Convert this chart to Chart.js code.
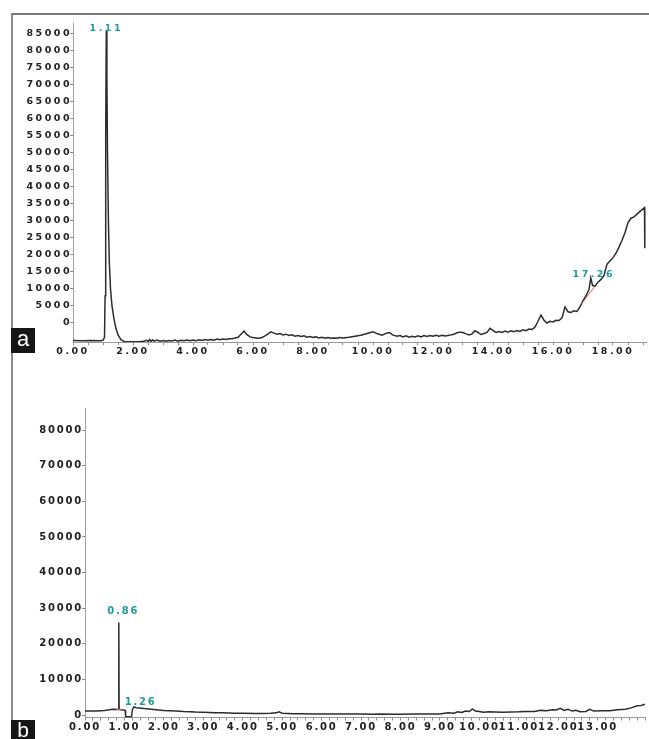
<!DOCTYPE html>
<html>
<head>
<meta charset="utf-8">
<script src="https://cdn.jsdelivr.net/npm/chart.js@4.4.1/dist/chart.umd.min.js"></script>
<style>
  html, body { margin: 0; padding: 0; background: #fff; }
  #wrap { position: relative; width: 649px; height: 739px; overflow: hidden; background: #fff; }
  #frame { position: absolute; left: 11px; top: 13px; width: 640px; height: 740px;
           border-top: 2px solid #7a7a7a; border-left: 2px solid #8a8a8a; box-sizing: border-box; }
  canvas { position: absolute; left: 0; }
  #ca { top: 0; }
  #cb { top: 380px; }
  .tag { position: absolute; left: 11px; background: #161616; color: #fff;
         font-family: "Liberation Sans", Arial, sans-serif; text-align: center; }
  #taga { top: 328px; width: 24px; height: 25px; font-size: 22px; line-height: 22px; }
  #tagb { top: 720px; width: 24px; height: 19px; font-size: 21px; line-height: 19px; }
</style>
</head>
<body>
<div id="wrap">
  <div id="frame"></div>
  <canvas id="ca" width="649" height="360"></canvas>
  <canvas id="cb" width="649" height="359"></canvas>
  <div class="tag" id="taga">a</div>
  <div class="tag" id="tagb">b</div>
</div>
<script>
// ---------------- Panel a data ----------------
const timeA = [0.00,0.30,0.60,0.90,1.00,1.05,1.07,1.09,1.11,1.13,1.15,1.18,1.21,1.25,1.30,1.36,1.42,1.50,1.60,1.70,1.85,2.00,2.20,2.35,2.45,2.50,2.55,2.60,2.65,2.70,2.80,2.90,3.00,3.10,3.20,3.30,3.40,3.50,3.60,3.70,3.80,3.90,4.00,4.10,4.20,4.30,4.40,4.50,4.60,4.70,4.80,4.90,5.00,5.10,5.20,5.30,5.40,5.50,5.60,5.70,5.78,5.90,6.00,6.10,6.20,6.30,6.40,6.50,6.60,6.70,6.80,6.90,7.00,7.10,7.20,7.30,7.40,7.50,7.60,7.70,7.80,7.90,8.00,8.10,8.20,8.30,8.40,8.50,8.60,8.70,8.80,8.90,9.00,9.20,9.40,9.60,9.80,10.00,10.15,10.30,10.45,10.55,10.65,10.80,10.90,11.00,11.10,11.20,11.30,11.40,11.50,11.60,11.70,11.80,11.90,12.00,12.10,12.20,12.30,12.40,12.50,12.60,12.70,12.80,12.90,13.00,13.10,13.20,13.30,13.40,13.50,13.60,13.70,13.80,13.90,14.00,14.10,14.20,14.30,14.40,14.50,14.60,14.70,14.80,14.90,15.00,15.10,15.20,15.30,15.40,15.50,15.60,15.70,15.80,15.90,16.00,16.10,16.20,16.30,16.40,16.50,16.60,16.70,16.80,16.90,17.00,17.10,17.20,17.26,17.32,17.40,17.50,17.60,17.70,17.80,17.90,18.00,18.10,18.20,18.30,18.40,18.50,18.60,18.70,18.80,18.90,19.05,19.06];
const signalA = [-5150,-5200,-5150,-5200,-5100,-4200,8000,55000,86000,72000,50000,30000,18000,10000,5000,1500,-1200,-3500,-4900,-5450,-5550,-5550,-5500,-5400,-5100,-5450,-4850,-5450,-4950,-5350,-5050,-5350,-5150,-5350,-5150,-5300,-5050,-5350,-5100,-5250,-5050,-5250,-5050,-5200,-4950,-5150,-4900,-5100,-4850,-5050,-4750,-4950,-4750,-4850,-4650,-4650,-4450,-4200,-3300,-2400,-3300,-4100,-4300,-4400,-4500,-4300,-3800,-3200,-2600,-3000,-3300,-3100,-3500,-3300,-3700,-3500,-3900,-3700,-4000,-3800,-4200,-4000,-4300,-4100,-4400,-4200,-4500,-4300,-4500,-4400,-4500,-4300,-4400,-4200,-3900,-3600,-3100,-2600,-3200,-3600,-3000,-2800,-3500,-3900,-3700,-4100,-3800,-4200,-3900,-4100,-3800,-4100,-3700,-4000,-3700,-3900,-3600,-3900,-3600,-3800,-3700,-3500,-3300,-2900,-2700,-2800,-3200,-3500,-3200,-2300,-2800,-3400,-3100,-2800,-1600,-2200,-2800,-2500,-2800,-2400,-2700,-2300,-2600,-2200,-2500,-2000,-2300,-1800,-1900,-1200,500,2300,800,0,500,300,800,700,1500,4700,3300,3100,3600,3400,4800,6500,8000,9800,13200,11000,10800,12000,12800,14000,17300,18200,19200,20500,22300,24300,26500,29500,30800,31200,32000,32800,33900,22000];
const baseTimeA = [16.95, 17.38];
const baseSignalA = [5600, 10600];
const yTickValuesA = [0,5000,10000,15000,20000,25000,30000,35000,40000,45000,50000,55000,60000,65000,70000,75000,80000,85000];
const yTickLabelsA = ['0','5000','10000','15000','20000','25000','30000','35000','40000','45000','50000','55000','60000','65000','70000','75000','80000','85000'];
const xTickValuesA = [0,2,4,6,8,10,12,14,16,18];
const xTickLabelsA = ['0.00','2.00','4.00','6.00','8.00','10.00','12.00','14.00','16.00','18.00'];
const peakLabelsA = ['1.11','17.26'];
const peakLabelXA = [1.11, 17.36];
const peakLabelYA = [86600, 14300];

// ---------------- Panel b data ----------------
const timeB = [0.00,0.30,0.50,0.70,0.84,0.855,0.86,0.865,0.90,0.98,1.02,1.03,1.18,1.20,1.24,1.30,1.50,1.80,2.00,2.30,2.50,2.80,3.00,3.30,3.50,3.80,4.00,4.30,4.50,4.70,4.85,4.92,5.00,5.30,5.50,5.80,6.00,6.30,6.50,6.80,7.00,7.30,7.50,7.80,8.00,8.30,8.50,8.80,9.00,9.20,9.35,9.45,9.55,9.65,9.75,9.82,9.90,10.00,10.10,10.25,10.40,10.60,10.80,11.00,11.20,11.40,11.55,11.70,11.85,11.95,12.05,12.15,12.25,12.35,12.45,12.55,12.70,12.80,12.90,13.10,13.30,13.50,13.70,13.85,14.00,14.10,14.20];
const signalB = [1100,1150,1250,1600,1550,1700,26000,1700,1500,1400,1250,-500,-500,1500,2300,2050,1800,1500,1300,1150,1000,850,800,650,600,500,500,450,450,500,600,900,500,350,350,300,300,300,250,250,250,200,250,200,200,250,250,300,300,600,500,900,700,1100,1000,1700,1100,1000,800,900,850,800,850,900,1000,1000,1300,1200,1500,1400,1900,1300,1600,1100,1300,900,1000,1600,1100,1200,1200,1500,1600,2000,2600,2700,3000];
const baseTimeB = [0.80, 0.93];
const baseSignalB = [1550, 1550];
const yTickValuesB = [0,10000,20000,30000,40000,50000,60000,70000,80000];
const yTickLabelsB = ['0','10000','20000','30000','40000','50000','60000','70000','80000'];
const xTickValuesB = [0,1,2,3,4,5,6,7,8,9,10,11,12,13];
const xTickLabelsB = ['0.00','1.00','2.00','3.00','4.00','5.00','6.00','7.00','8.00','9.00','10.00','11.00','12.00','13.00'];
const peakLabelsB = ['0.86','1.26'];
const peakLabelXB = [0.97, 1.41];
const peakLabelYB = [29000, 3400];

// ---------------- helpers ----------------
function pts(xs, ys) { return xs.map((x, i) => ({ x: x, y: ys[i] })); }
function lookup(vals, labels) {
  return function (v) {
    for (let i = 0; i < vals.length; i++) if (Math.abs(vals[i] - v) < 1e-6) return labels[i];
    return '';
  };
}

const spacingPlugin = {
  id: 'spacing',
  beforeUpdate(chart, args, opts) { chart.ctx.letterSpacing = opts.px + 'px'; },
  beforeDraw(chart, args, opts) { chart.ctx.letterSpacing = opts.px + 'px'; }
};

const peakLabelPlugin = {
  id: 'peakLabels',
  afterDatasetsDraw(chart, args, opts) {
    const ctx = chart.ctx, xs = chart.scales.x, ys = chart.scales.y;
    ctx.save();
    ctx.letterSpacing = opts.spacing + 'px';
    ctx.font = opts.font;
    ctx.fillStyle = opts.color;
    ctx.textAlign = 'center';
    ctx.textBaseline = 'middle';
    opts.labels.forEach((t, i) => {
      ctx.fillText(t, xs.getPixelForValue(opts.xs[i]), ys.getPixelForValue(opts.ys[i]));
    });
    ctx.restore();
  }
};

function makeChart(id, p) {
  return new Chart(document.getElementById(id), {
    type: 'line',
    data: {
      datasets: [
        { data: pts(p.time, p.signal), borderColor: '#2c2c2c', borderWidth: 1.5, pointRadius: 0, tension: 0, order: 1 },
        { data: pts(p.baseT, p.baseS), borderColor: '#e05a5a', borderWidth: 1, pointRadius: 0, tension: 0, order: 0 }
      ]
    },
    options: {
      responsive: false,
      animation: false,
      events: [],
      layout: { padding: { left: 0, top: p.padTop, right: p.padRight, bottom: 0 } },
      plugins: {
        legend: { display: false },
        tooltip: { enabled: false },
        spacing: { px: p.spacing },
        peakLabels: { labels: p.peakLabels, xs: p.peakX, ys: p.peakY, font: p.peakFont, color: '#1f9b9b', spacing: p.spacing }
      },
      scales: {
        x: {
          type: 'linear', min: 0, max: p.xMax,
          afterBuildTicks(s) {
            const t = [];
            for (let i = 0; i * p.minorStep <= p.xMax + 1e-9; i++) t.push({ value: Math.round(i * p.minorStep * 10) / 10 });
            s.ticks = t;
          },
          afterFit(s) { s.height = p.xHeight; },
          grid: { display: true, drawOnChartArea: false, drawTicks: true, tickLength: 3, color: '#8a8a8a' },
          border: { display: true, color: '#9a9a9a', width: 1 },
          ticks: {
            autoSkip: false, maxRotation: 0, minRotation: 0, padding: 1,
            color: '#222', font: p.tickFont,
            callback: lookup(p.xTickValues, p.xTickLabels)
          }
        },
        y: {
          type: 'linear', min: p.yMin, max: p.yMax,
          afterBuildTicks(s) { s.ticks = p.yTickValues.map(v => ({ value: v })); },
          afterFit(s) { s.width = p.yWidth; },
          grid: { display: true, drawOnChartArea: false, drawTicks: true, tickLength: 3, color: '#8a8a8a' },
          border: { display: true, color: '#a0a0a0', width: 1 },
          ticks: {
            padding: p.yPad, color: '#222', font: p.tickFont,
            callback: lookup(p.yTickValues, p.yTickLabels)
          }
        }
      }
    },
    plugins: [spacingPlugin, peakLabelPlugin]
  });
}

makeChart('ca', {
  time: timeA, signal: signalA, baseT: baseTimeA, baseS: baseSignalA,
  xMax: 19.1, minorStep: 0.5, yMin: -5600, yMax: 88200,
  yTickValues: yTickValuesA, yTickLabels: yTickLabelsA,
  xTickValues: xTickValuesA, xTickLabels: xTickLabelsA,
  peakLabels: peakLabelsA, peakX: peakLabelXA, peakY: peakLabelYA,
  padTop: 23, padRight: 3, xHeight: 18, yWidth: 73, yPad: -2,
  spacing: 2.5,
  tickFont: { family: 'DejaVu Sans', weight: 'bold', size: 9.5 },
  peakFont: 'bold 9.5px "DejaVu Sans"'
});

makeChart('cb', {
  time: timeB, signal: signalB, baseT: baseTimeB, baseS: baseSignalB,
  xMax: 14.2, minorStep: 0.2, yMin: -700, yMax: 86200,
  yTickValues: yTickValuesB, yTickLabels: yTickLabelsB,
  xTickValues: xTickValuesB, xTickLabels: xTickLabelsB,
  peakLabels: peakLabelsB, peakX: peakLabelXB, peakY: peakLabelYB,
  padTop: 28, padRight: 4, xHeight: 21.5, yWidth: 85, yPad: -1,
  spacing: 1.8,
  tickFont: { family: 'DejaVu Sans', weight: 'bold', size: 10 },
  peakFont: 'bold 10px "DejaVu Sans"'
});
</script>
</body>
</html>
